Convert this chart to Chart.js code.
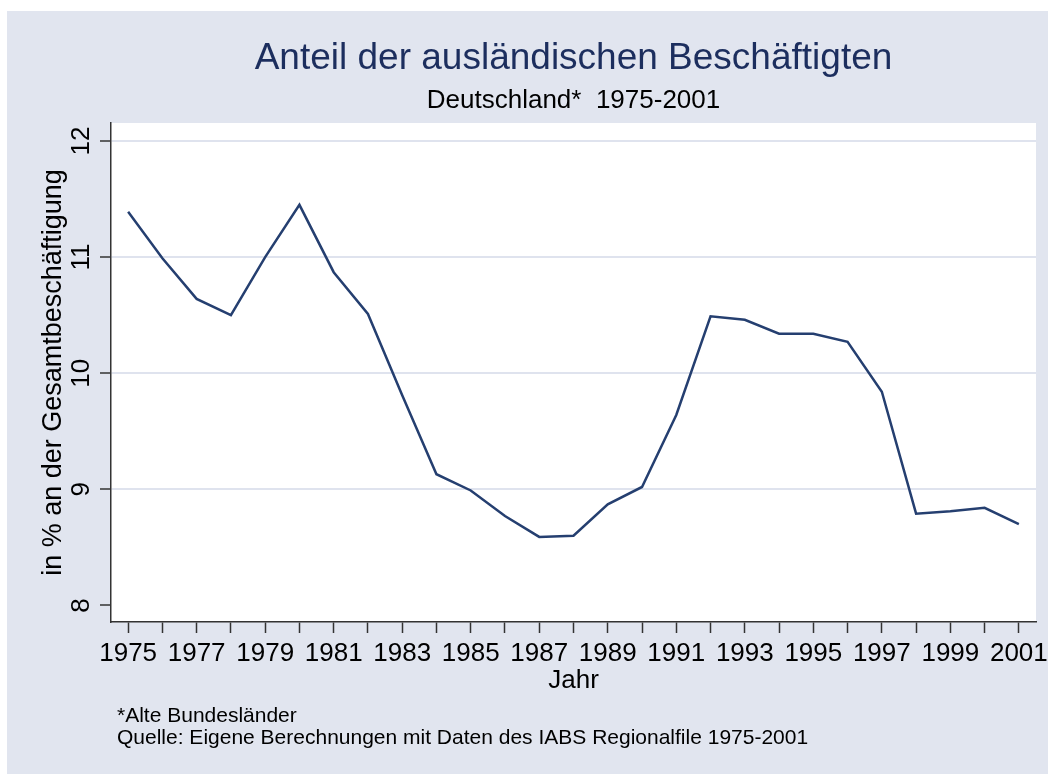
<!DOCTYPE html>
<html lang="de"><head>
<meta charset="utf-8">
<title>Anteil der ausländischen Beschäftigten</title>
<style type="text/css">
body { margin:0; background:#e1e5ef; overflow:hidden; }
#bandTop { position:absolute; left:0; top:0; width:1048px; height:11px; background:#ffffff; }
#bandLeft { position:absolute; left:0; top:0; width:7px; height:774px; background:#ffffff; }
#chart1 { position:absolute; left:7px; top:11px; }
canvas { display:block; }
</style>
<script src="https://cdn.jsdelivr.net/npm/chart.js"></script>
<script>
years=[1975,1976,1977,1978,1979,1980,1981,1982,1983,1984,1985,1986,1987,1988,
       1989,1990,1991,1992,1993,1994,1995,1996,1997,1998,1999,2000,2001];
anteil=[11.39,10.99,10.64,10.50,11.00,11.45,10.87,10.51,9.81,9.13,8.99,8.77,8.59,8.60,
        8.87,9.02,9.64,10.49,10.46,10.34,10.34,10.27,9.84,8.79,8.81,8.84,8.70];
yTicks=[8,9,10,11,12];
notes=["*Alte Bundesländer","Quelle: Eigene Berechnungen mit Daten des IABS Regionalfile 1975-2001"];

fam='"Liberation Sans", Arial, sans-serif';
bgColor='#e1e5ef'; gridColor='#dfe3ee'; axisColor='#333333';

function initChart() {
  bgPlugin={id:'bg',beforeDraw:function(c){ var x=c.ctx,a=c.chartArea; x.save();
    x.fillStyle=bgColor; x.fillRect(0,0,c.width,c.height);
    x.fillStyle='#ffffff'; x.fillRect(a.left,a.top,a.right-a.left,a.bottom-a.top);
    x.restore(); }};
  notePlugin={id:'notes',afterDraw:function(c){ var x=c.ctx; x.save();
    x.font='21px '+fam; x.fillStyle='#000000'; x.textBaseline='alphabetic'; x.textAlign='left';
    for (i=0;i<notes.length;i++) { x.fillText(notes[i],110,711+i*22); }
    x.restore(); }};

  data={labels:years,datasets:[{label:'Anteil',data:anteil,
    borderColor:'#253f70',backgroundColor:'#253f70',borderWidth:2.5,
    pointRadius:0,tension:0,fill:false}]};

  config={type:'line',data,plugins:[bgPlugin,notePlugin],options:{
    responsive:false,devicePixelRatio:1,animation:false,
    layout:{padding:{left:0,right:12,top:0,bottom:78}},
    plugins:{legend:{display:false},tooltip:{enabled:false},
      title:{display:true,fullSize:false,text:'Anteil der ausländischen Beschäftigten',color:'#1c2e5e',
        font:{family:fam,size:37,weight:'normal'},padding:{top:26,bottom:0}},
      subtitle:{display:true,fullSize:false,text:'Deutschland*  1975-2001',color:'#000000',
        font:{family:fam,size:26,weight:'normal'},padding:{top:4,bottom:6.4}}},
    scales:{
      x:{type:'category',offset:true,
        ticks:{autoSkip:false,maxRotation:0,minRotation:0,padding:5,color:'#000000',font:{family:fam,size:26},
          callback:function(v,i){ return (years[i]-1975)%2==0 ? String(years[i]) : ''; }},
        grid:{drawOnChartArea:false,tickColor:axisColor,tickWidth:1.5,tickLength:11},
        border:{color:axisColor,width:1.5},
        title:{display:true,text:'Jahr',color:'#000000',font:{family:fam,size:26},padding:{top:0,bottom:0}},
        afterFit:function(s){ s.height=74; s.paddingLeft=0; s.paddingRight=0; }},
      y:{min:7.857,max:12.155,
        afterBuildTicks:function(s){ s.ticks=yTicks.map(function(v){return {value:v};}); },
        ticks:{minRotation:90,maxRotation:90,crossAlign:'center',padding:4,color:'#000000',font:{family:fam,size:26}},
        grid:{color:function(c){ return (c.tick && c.tick.value==8) ? 'rgba(0,0,0,0)' : gridColor; },
          lineWidth:2,tickColor:axisColor,tickWidth:1.5,tickLength:11},
        border:{color:axisColor,width:1.5},
        title:{display:true,text:'in % an der Gesamtbeschäftigung',color:'#000000',font:{family:fam,size:27},padding:{top:30,bottom:0}},
        afterFit:function(s){ s.width=104; s.paddingTop=0; s.paddingBottom=0; }}}}};

  myChart=new Chart(document.getElementById('myChart'),config); }
</script></head>
<body onload="initChart();">
<div id="bandTop"></div><div id="bandLeft"></div>
<div id="chart1">
  <canvas id="myChart" width="1041" height="763"></canvas>
</div>
</body></html>
